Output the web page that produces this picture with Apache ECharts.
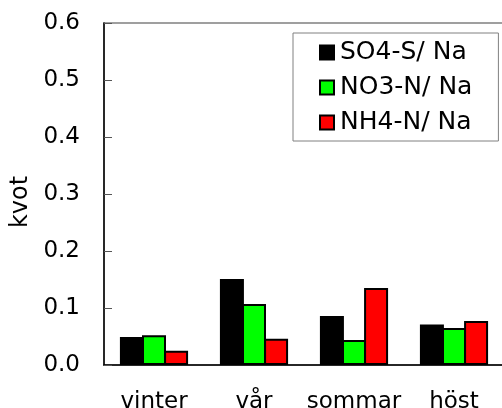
<!DOCTYPE html>
<html>
<head>
<meta charset="utf-8">
<script src="https://cdn.jsdelivr.net/npm/echarts@6/dist/echarts.min.js"></script>
<style>
html, body { margin: 0; padding: 0; background: #fff; }
#echart { width: 502px; height: 408px; }
</style>
</head>
<body>
<div id="echart"></div>
<script>
var seasons = ['vinter', 'vår', 'sommar', 'höst'];
var so4 = [0.049, 0.151, 0.086, 0.071];
var no3 = [0.052, 0.107, 0.044, 0.065];
var nh4 = [0.025, 0.046, 0.135, 0.077];
var yTicks = [0, 0.1, 0.2, 0.3, 0.4, 0.5, 0.6];

var font = 'DejaVu Sans';
var myChart = echarts.init(document.getElementById('echart'));

function barSeries(name, color, data) {
	return {
		name: name,
		type: 'bar',
		barWidth: 24,
		barGap: '-8%',
		itemStyle: {
			color: color,
			borderColor: '#000',
			borderWidth: 2
		},
		data: data
	};
}

option = {
	animation: false,
	backgroundColor: '#fff',
	grid: {
		left: 104,
		top: 23,
		width: 400,
		height: 342,
		outerBoundsMode: 'none',
		containLabel: false,
		show: true,
		borderColor: '#808080',
		borderWidth: 1.5
	},
	legend: {
		orient: 'vertical',
		left: 293,
		top: 33,
		padding: [7, 26, 6, 26],
		itemGap: 10,
		itemWidth: 14,
		itemHeight: 14,
		icon: 'rect',
		borderColor: '#808080',
		borderWidth: 1,
		backgroundColor: '#fff',
		textStyle: {
			fontFamily: font,
			fontSize: 25,
			color: '#000',
			padding: [0, 0, 0, 1]
		},
		data: ['SO4-S/ Na', 'NO3-N/ Na', 'NH4-N/ Na']
	},
	xAxis: {
		type: 'category',
		data: seasons,
		axisLine: { lineStyle: { color: '#000', width: 1.5 } },
		axisTick: { inside: true, length: 8, lineStyle: { color: '#555' } },
		axisLabel: {
			interval: 0,
			margin: 26,
			fontFamily: font,
			fontSize: 23,
			color: '#000'
		}
	},
	yAxis: {
		type: 'value',
		min: yTicks[0],
		max: yTicks[yTicks.length - 1],
		interval: 0.1,
		name: 'kvot',
		nameLocation: 'middle',
		nameGap: 63,
		nameTextStyle: {
			fontFamily: font,
			fontSize: 24,
			color: '#000',
			padding: [0, 16, 0, 0]
		},
		splitLine: { show: false },
		axisLine: { show: true, lineStyle: { color: '#000', width: 1.5 } },
		axisTick: { show: true, inside: true, length: 8, lineStyle: { color: '#555' } },
		axisLabel: {
			margin: 24,
			fontFamily: font,
			fontSize: 23,
			color: '#000',
			formatter: function (v) { return v.toFixed(1); }
		}
	},
	series: [
		barSeries('SO4-S/ Na', '#000000', so4),
		barSeries('NO3-N/ Na', '#00ff00', no3),
		barSeries('NH4-N/ Na', '#ff0000', nh4)
	]
};
myChart.setOption(option);
</script>
</body>
</html>
